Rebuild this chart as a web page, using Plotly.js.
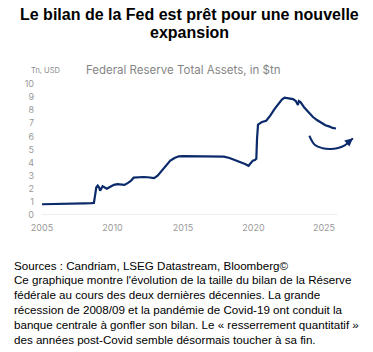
<!DOCTYPE html>
<html><head><meta charset="utf-8">
<script src="https://cdn.plot.ly/plotly-3.0.1.min.js"></script>
<style>html,body{margin:0;padding:0;background:#fff}#chart{width:373px;height:352px}</style>
</head><body><div id="chart"></div>
<script>
const years = [2005.0,2005.5,2006.0,2006.5,2007.0,2007.5,2008.0,2008.5,2008.68,2008.75,2008.85,2008.95,2009.05,2009.12,2009.2,2009.3,2009.45,2009.6,2009.75,2009.9,2010.1,2010.35,2010.6,2010.85,2011.1,2011.3,2011.5,2011.7,2012.0,2012.2,2012.5,2012.8,2012.95,2013.2,2013.5,2013.8,2014.1,2014.4,2014.7,2015.0,2015.5,2016.0,2016.5,2017.0,2017.5,2017.9,2018.3,2018.7,2019.0,2019.4,2019.65,2019.8,2019.95,2020.1,2020.2,2020.25,2020.32,2020.45,2020.6,2020.9,2021.2,2021.5,2021.8,2022.0,2022.2,2022.5,2022.8,2023.0,2023.15,2023.22,2023.35,2023.6,2023.9,2024.2,2024.5,2024.8,2025.1,2025.4,2025.6,2025.85];
const assets = [0.82,0.84,0.85,0.86,0.87,0.88,0.89,0.9,0.92,1.4,2.1,2.25,2.1,1.85,2.05,2.2,2.1,2.0,2.1,2.2,2.3,2.35,2.32,2.3,2.45,2.6,2.85,2.87,2.88,2.9,2.88,2.85,2.82,3.0,3.4,3.8,4.15,4.35,4.48,4.5,4.5,4.5,4.48,4.48,4.48,4.45,4.35,4.2,4.05,3.9,3.76,4.0,4.15,4.2,4.3,5.8,6.9,7.0,7.1,7.2,7.6,8.1,8.5,8.8,8.95,8.9,8.85,8.7,8.4,8.7,8.6,8.2,7.85,7.5,7.25,7.05,6.85,6.75,6.65,6.6];
const arrowX = [2023.96,2024.36,2024.9,2025.43,2026.0,2026.5,2027.05];
const arrowY = [6.05,5.34,5.1,5.04,5.12,5.34,5.85];
const xTicks = [2005,2010,2015,2020,2025];
const yTicks = [0,1,2,3,4,5,6,7,8,9,10];
const mainTitleLines = ["Le bilan de la Fed est prêt pour une nouvelle","expansion"];
const chartTitle = "Federal Reserve Total Assets, in $tn";
const unitLabel = "Tn, USD";
const footerLines = [
 "Sources : Candriam, LSEG Datastream, Bloomberg©",
 "Ce graphique montre l'évolution de la taille du bilan de la Réserve",
 "fédérale au cours des deux dernières décennies. La grande",
 "récession de 2008/09 et la pandémie de Covid-19 ont conduit la",
 "banque centrale à gonfler son bilan. Le « resserrement quantitatif »",
 "des années post-Covid semble désormais toucher à sa fin."
];

const W=373,H=352,L=42,R=12,T=84,B=137;
const pw=W-L-R, ph=H-T-B;
const px=x=>(x-L)/pw, py=y=>(T+ph-y)/ph;
const navy='#0b2a6b';

const traces=[
 {x:years,y:assets,type:'scatter',mode:'lines',line:{color:navy,width:2.2},hoverinfo:'skip'},
 {x:arrowX,y:arrowY,type:'scatter',mode:'lines',line:{color:navy,width:2,shape:'spline'},hoverinfo:'skip'}
];
const ann=[
 {xref:'paper',yref:'paper',x:px(183),y:py(70),text:chartTitle,showarrow:false,xanchor:'center',yanchor:'middle',font:{family:'Inter, Open Sans, sans-serif',size:11.5,color:'#858585'}},
 {xref:'paper',yref:'paper',x:px(29),y:py(70),text:unitLabel,showarrow:false,xanchor:'left',yanchor:'middle',font:{family:'Inter, Open Sans, sans-serif',size:7.5,color:'#8a8a8a'}},
 {x:arrowX[arrowX.length-1],y:arrowY[arrowY.length-1],ax:arrowX[arrowX.length-2],ay:arrowY[arrowY.length-2],axref:'x',ayref:'y',xref:'x',yref:'y',showarrow:true,arrowhead:2,arrowsize:0.8,arrowwidth:2,arrowcolor:navy,text:''}
];
mainTitleLines.forEach((t,i)=>{
 ann.push({xref:'paper',yref:'paper',x:px(189),y:py(15+i*17),text:'<b>'+t+'</b>',showarrow:false,xanchor:'center',yanchor:'middle',font:{family:'Liberation Sans, Arial, sans-serif',size:16,color:'#000'}});
});
footerLines.forEach((t,i)=>{
 ann.push({xref:'paper',yref:'paper',x:px(12),y:py(265+i*14.8),text:t,showarrow:false,xanchor:'left',yanchor:'middle',align:'left',font:{family:'Liberation Sans, Arial, sans-serif',size:11.6,color:'#000'}});
});
const layout={
 width:W,height:H,margin:{l:L,r:R,t:T,b:B,pad:0},
 paper_bgcolor:'#fff',plot_bgcolor:'#fff',showlegend:false,
 xaxis:{range:[2005,2005+(pw)/14.1],tickvals:xTicks,ticktext:xTicks.map(String),showgrid:false,zeroline:false,showline:false,ticks:'',ticklabelstandoff:6,tickfont:{family:'Inter, Open Sans, sans-serif',size:9,color:'#9a9a9a'}},
 yaxis:{range:[0,10],tickvals:yTicks,showgrid:false,zeroline:false,showline:false,ticks:'',ticklabelstandoff:7,tickfont:{family:'Inter, Open Sans, sans-serif',size:9,color:'#9a9a9a'}},
 shapes:[{type:'line',xref:'x',yref:'y',x0:2004.86,x1:2025.95,y0:0,y1:0,line:{color:'#dcdcdc',width:1}}],
 annotations:ann
};
Plotly.newPlot('chart',traces,layout,{displayModeBar:false,staticPlot:true});
</script></body></html>
